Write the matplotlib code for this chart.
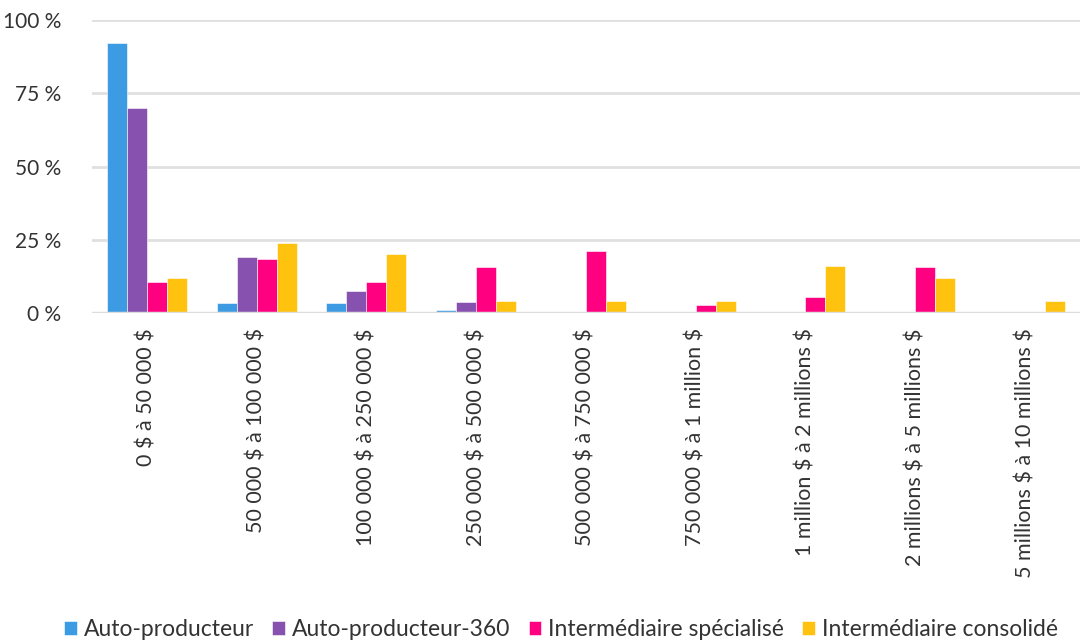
import matplotlib.pyplot as plt
import numpy as np

plt.rcParams['font.family'] = ['Lato', 'DejaVu Sans']
plt.rcParams['text.parse_math'] = False

categories = ['0 $ à 50 000 $', '50 000 $ à 100 000 $', '100 000 $ à 250 000 $',
              '250 000 $ à 500 000 $', '500 000 $ à 750 000 $', '750 000 $ à 1 million $',
              '1 million $ à 2 millions $', '2 millions $ à 5 millions $',
              '5 millions $ à 10 millions $']
series_names = ['Auto-producteur', 'Auto-producteur-360',
                'Intermédiaire spécialisé', 'Intermédiaire consolidé']
auto_prod = [92.1, 3.4, 3.4, 1.1, 0, 0, 0, 0, 0]
auto_prod_360 = [69.8, 19.1, 7.4, 3.7, 0, 0, 0, 0, 0]
inter_spec = [10.5, 18.4, 10.5, 15.8, 21.1, 2.6, 5.3, 15.8, 0]
inter_cons = [12, 24, 20, 4, 4, 4, 16, 12, 4]
colors = ['#3d9be4', '#8751af', '#ff0080', '#ffc20e']
yticks = [0, 25, 50, 75, 100]

fig = plt.figure(figsize=(10.81, 6.43), dpi=100)
ax = fig.add_axes([0.085, 0.5132, 0.914, 0.4557])

x = np.arange(len(categories))
w = 0.182
for i, (vals, name) in enumerate(zip([auto_prod, auto_prod_360, inter_spec, inter_cons], series_names)):
    ax.bar(x + (i - 1.5) * w, vals, w, color=colors[i], label=name, zorder=3,
           edgecolor='white', linewidth=0.4)

ax.set_xlim(-0.5, len(categories) - 0.5)
ax.set_ylim(0, 100)
ax.set_yticks(yticks)
ax.set_yticklabels([f'{v} %' for v in yticks])
ax.set_xticks(x)
ax.set_xticklabels(categories, rotation=90, va='top', ha='center')
ax.tick_params(axis='both', length=0, labelsize=15, colors='#333333')
ax.tick_params(axis='x', labelsize=15.5, pad=11)
ax.tick_params(axis='y', pad=22)
for s in ax.spines.values():
    s.set_visible(False)
ax.grid(axis='y', color='#e0e0e0', linewidth=2, zorder=0)
ax.axhline(0, color='#dddddd', linewidth=2.5, zorder=4)
for lbl in ax.get_yticklabels():
    lbl.set_clip_on(False)

fig.legend(loc='lower center', bbox_to_anchor=(0.519, -0.028), ncol=4, frameon=False,
           fontsize=16.5, handlelength=0.55, handleheight=0.55, handletextpad=0.3,
           columnspacing=0.8, labelcolor='#333333')

fig.savefig('out.png', dpi=100)
